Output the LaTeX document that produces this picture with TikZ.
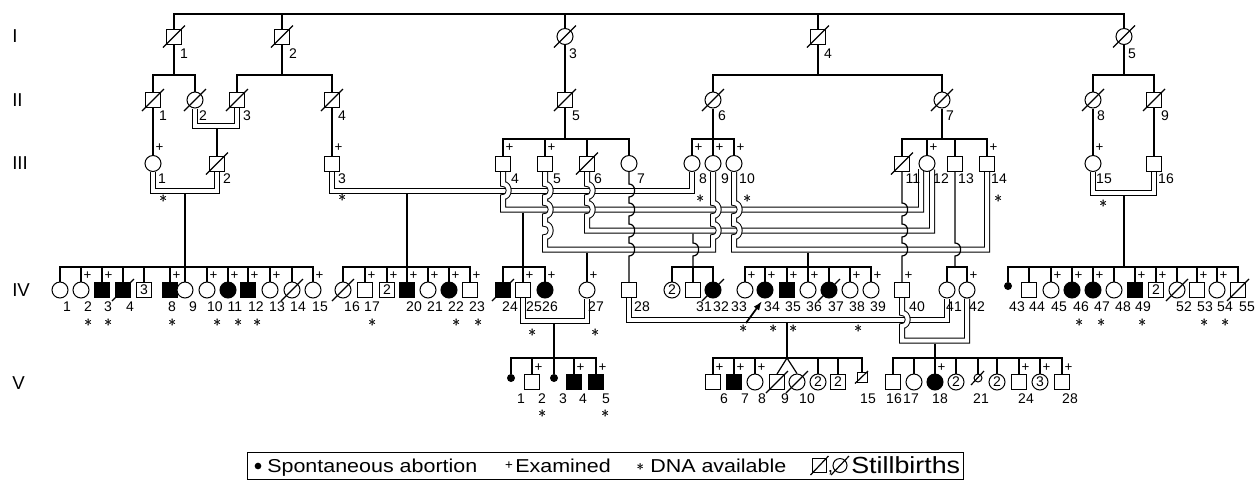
\documentclass[tikz,border=0pt]{standalone}
\usepackage{fontspec}
\setmainfont{Liberation Sans}
\usetikzlibrary{arrows.meta,backgrounds}
\newcommand\labf{\fontsize{10.5}{12}\selectfont}
\newcommand\dnamark{\makebox[0pt]{$\ast$}\makebox[0pt]{\kern0.7pt$\ast$}}
\begin{document}
\begin{tikzpicture}[x=0.75pt,y=-0.75pt,
 every node/.style={inner sep=0pt, font=\labf},
 sq/.style={draw, fill=white, rectangle, minimum size=11.25pt, line width=0.75pt},
 ci/.style={draw, fill=white, circle, minimum size=12pt, line width=0.75pt},
 aff/.style={fill=black},
 sab/.style={fill=black, circle, minimum size=6pt},
 pl/.style={font=\fontsize{10}{12}\selectfont},
 ast/.style={font=\fontsize{13}{13}\selectfont},
 gen/.style={font=\fontsize{14}{16}\selectfont, anchor=west},
 ln/.style={line width=0.9pt},
 dbl/.style={double, double distance=3pt, line width=0.75pt},
 sl/.style={line width=0.9pt},
 hd/.style 2 args={insert path={-- (#1,#2-6.5) .. controls (#1+7.5,#2-6.5) and (#1+7.5,#2+6.5) .. (#1,#2+6.5)}},
 hu/.style 2 args={insert path={-- (#1,#2+6.5) .. controls (#1+7.5,#2+6.5) and (#1+7.5,#2-6.5) .. (#1,#2-6.5)}},
 legt/.style={font=\fontsize{14}{16}\selectfont, anchor=base west},
]
\useasboundingbox (0,0) rectangle (1258,480);
\coordinate (sI) at (0,14);
\coordinate (sII) at (0,75);
\coordinate (sIII) at (0,139);
\coordinate (sIV) at (0,267);
\coordinate (sV) at (0,358);

% generation labels
\node[gen] (gI) at (12,36) {I};
\node[gen] (gII) at (12,100) {II};
\node[gen] (gIII) at (12,163) {III};
\node[gen] (gIV) at (12,290) {IV};
\node[gen] (gV) at (12,383) {V};

% ---------- Generation I
\node[sq] (I1) at (174,36.5) {};
\node[sq] (I2) at (282,36.5) {};
\node[ci] (I3) at (565,36.5) {};
\node[sq] (I4) at (818,36.5) {};
\node[ci] (I5) at (1124,36.5) {};
\foreach \x/\t in {184/1,293/2,573/3,828/4,1132/5} \node (lI\t) at (\x,54) {\t};

% ---------- Generation II
\node[sq] (II1) at (153,100) {};
\node[ci] (II2) at (195,100) {};
\node[sq] (II3) at (237,100) {};
\node[sq] (II4) at (332,100) {};
\node[sq] (II5) at (565,100) {};
\node[ci] (II6) at (713,100) {};
\node[ci] (II7) at (942,100) {};
\node[ci] (II8) at (1093,100) {};
\node[sq] (II9) at (1154,100) {};
\foreach \x/\t in {163/1,203/2,247/3,342/4,576/5,722/6,950/7,1101/8,1165/9} \node (lII\t) at (\x,116) {\t};

% ---------- Generation III
\node[ci] (III1) at (153,163.5) {};
\node[sq] (III2) at (217,163.5) {};
\node[sq] (III3) at (332,163.5) {};
\node[sq] (III4) at (503,163.5) {};
\node[sq] (III5) at (545,163.5) {};
\node[sq] (III6) at (587,163.5) {};
\node[ci] (III7) at (629,163.5) {};
\node[ci] (III8) at (692,163.5) {};
\node[ci] (III9) at (713,163.5) {};
\node[ci] (III10) at (734,163.5) {};
\node[sq] (III11) at (902,163.5) {};
\node[ci] (III12) at (927,163.5) {};
\node[sq] (III13) at (955,163.5) {};
\node[sq] (III14) at (987,163.5) {};
\node[ci] (III15) at (1093,163.5) {};
\node[sq] (III16) at (1154,163.5) {};
\foreach \x/\t in {162/1,227/2,342/3,515/4,557/5,598/6,641/7,703/8,725/9,747/10,913/11,941/12,966/13,999/14,1104/15,1166/16} \node (lIII\t) at (\x,179) {\t};

% ---------- Generation IV
\node[ci] (IV1) at (60,290) {};
\node[ci] (IV2) at (81,290) {};
\node[sq,aff] (IV3) at (102,290) {};
\node[sq,aff] (IV4) at (123,290) {};
\node[sq] (IVnA) at (144,290) {3};
\node[sq,aff] (IV8) at (170,290) {};
\node[ci] (IV9) at (185,290) {};
\node[ci] (IV10) at (207,290) {};
\node[ci,aff] (IV11) at (228,290) {};
\node[sq,aff] (IV12) at (248,290) {};
\node[ci] (IV13) at (270,290) {};
\node[ci] (IV14) at (292,290) {};
\node[ci] (IV15) at (313,290) {};
\node[ci] (IV16) at (343,290) {};
\node[sq] (IV17) at (365,290) {};
\node[sq] (IVnB) at (387,290) {2};
\node[sq,aff] (IV20) at (407,290) {};
\node[ci] (IV21) at (428,290) {};
\node[ci,aff] (IV22) at (449,290) {};
\node[sq] (IV23) at (470,290) {};
\node[sq,aff] (IV24) at (503,290) {};
\node[sq] (IV25) at (523,290) {};
\node[ci,aff] (IV26) at (545,290) {};
\node[ci] (IV27) at (587,290) {};
\node[sq] (IV28) at (629,290) {};
\node[ci] (IVnC) at (672,290) {2};
\node[sq] (IV31) at (693,290) {};
\node[ci,aff] (IV32) at (713,290) {};
\node[ci] (IV33) at (745,290) {};
\node[ci,aff] (IV34) at (765,290) {};
\node[sq,aff] (IV35) at (787,290) {};
\node[ci] (IV36) at (808,290) {};
\node[ci,aff] (IV37) at (829,290) {};
\node[ci] (IV38) at (850,290) {};
\node[ci] (IV39) at (871,290) {};
\node[sq] (IV40) at (902,290) {};
\node[ci] (IV41) at (947,290) {};
\node[ci] (IV42) at (967,290) {};
\node[sab] (IV43) at (1008,286) {};
\node[sq] (IV44) at (1029,290) {};
\node[ci] (IV45) at (1051,290) {};
\node[ci,aff] (IV46) at (1072,290) {};
\node[ci,aff] (IV47) at (1093,290) {};
\node[ci] (IV48) at (1114,290) {};
\node[sq,aff] (IV49) at (1135,290) {};
\node[sq] (IVnD) at (1156,290) {2};
\node[ci] (IV52) at (1177,290) {};
\node[sq] (IV53) at (1197,290) {};
\node[ci] (IV54) at (1217,290) {};
\node[sq] (IV55) at (1238,290) {};
\foreach \x/\t in {67/1,88/2,108/3,130/4,172/8,193/9,215/10,235/11,256/12,277/13,298/14,320/15,352/16,372/17,414/20,435/21,456/22,477/23,510/24,534/25,550/26,596/27,642/28,704/31,721/32,739/33,772/34,793/35,814/36,836/37,857/38,878/39,917/40,954/41,977/42,1017/43,1037/44,1059/45,1081/46,1102/47,1123/48,1143/49,1184/52,1205/53,1225/54,1247/55} \node (lIV\t) at (\x,307) {\t};

% ---------- Generation V
\node[sab] (V1) at (511,378) {};
\node[sq] (V2) at (532,382) {};
\node[sab] (V3) at (554,378) {};
\node[sq,aff] (V4) at (574,382) {};
\node[sq,aff] (V5) at (596,382) {};
\node[sq] (V6) at (713,382) {};
\node[sq,aff] (V7) at (734,382) {};
\node[ci] (V8) at (755,382) {};
\node[sq] (V9) at (777,382) {};
\node[ci] (V10) at (797,382) {};
\node[ci] (VnA) at (818,382) {2};
\node[sq] (VnB) at (838,382) {2};
\node[sq, minimum size=7.5pt] (V15) at (862,377) {};
\node[sq] (V16) at (893,382) {};
\node[ci] (V17) at (914,382) {};
\node[ci,aff] (V18) at (935,382) {};
\node[ci] (VnC) at (956,382) {2};
\node[ci, minimum size=6pt] (V21) at (978,378) {};
\node[ci] (VnD) at (997,382) {2};
\node[sq] (V24) at (1019,382) {};
\node[ci] (VnE) at (1040,382) {3};
\node[sq] (V28) at (1062,382) {};
\foreach \x/\t in {521/1,542/2,563/3,583/4,606/5,724/6,745/7,762/8,785/9,807/10,868/15,894/16,911/17,940/18,981/21,1026/24,1070/28} \node (lV\t) at (\x,399) {\t};

% ---------- examined marks
\foreach \n in {III1,III3,III4,III5,III8,III9,III10,III12,III14,III15}
  \node[pl] (p\n) at ([shift={(6.5,-15.5)}]\n.center) {+};
\foreach \n in {IV2,IV3,IV8,IV10,IV11,IV12,IV13,IV15,IV17,IVnB,IV20,IV21,IV22,IV23,IV25,IV26,IV27,IV33,IV34,IV35,IV36,IV38,IV39,IV40,IV42,IV45,IV46,IV47,IV49,IVnD,IV53,IV54,V2,V4,V5,V6,V7,V8,V18,V24,VnE,V28}
  \node[pl] (p\n) at ([shift={(6.5,-14)}]\n.center) {+};

% ---------- DNA available
\foreach \x/\y [count=\i] in {163/199,342/198,700/199,747/199,998/199,1103/204,88/323,108/323,172/323,217/323,238/323,257/323,372/323,456/323,478/323,1079/323,1101/323,1142/323,1204/323,1225/323,532/333,595/333,743/329,773/329,793/329,858/329,542/414,605/414}
  \node[ast] (dna\i) at (\x,\y) {\dnamark};

% ---------- deceased / stillbirth slashes
\foreach \n in {I1,I2,I3,I4,I5,II1,II2,II3,II4,II5,II6,II7,II8,II9,III2,III6,III11,IV4,IV14,IV16,IV24,IV32,IV37,IV52,IV55,V9,V10}
  \draw[sl] ([shift={(-11,11)}]\n.center) -- ([shift={(11,-11)}]\n.center);
\draw[sl] ([shift={(-7,6.5)}]V15.center) -- ([shift={(6,-6)}]V15.center);
\draw[sl] ([shift={(-7,7)}]V21.center) -- ([shift={(6,-7)}]V21.center);

% ---------- proband arrow
\coordinate (arS) at (746,323);
\coordinate (arT) at (762,301);
\draw[-{Latex[length=7pt,width=5pt]}, line width=1.3pt] (arS) -- (arT);

% ---------- connectors
\begin{scope}[on background layer]
% I
\draw[ln] (I1.north) -- (I1.north |- sI) -- (I5.north |- sI) -- (I5.north);
\foreach \n in {I2,I3,I4} \draw[ln] (\n.north) -- (\n.north |- sI);
% I -> II
\draw[ln] (I1.south) -- (I1.south |- sII);
\draw[ln] (II1.north) -- (II1.north |- sII) -- (II2.north |- sII) -- (II2.north);
\draw[ln] (I2.south) -- (I2.south |- sII);
\draw[ln] (II3.north) -- (II3.north |- sII) -- (II4.north |- sII) -- (II4.north);
\draw[ln] (I3.south) -- (II5.north);
\draw[ln] (I4.south) -- (I4.south |- sII);
\draw[ln] (II6.north) -- (II6.north |- sII) -- (II7.north |- sII) -- (II7.north);
\draw[ln] (I5.south) -- (I5.south |- sII);
\draw[ln] (II8.north) -- (II8.north |- sII) -- (II9.north |- sII) -- (II9.north);
% II -> III
\draw[dbl] (II2.south) -- (195,125.5) -- (237,125.5) -- (II3.south);
\draw[ln] (217,128.5) -- (III2.north);
\draw[ln] (II1.south) -- (III1.north);
\draw[ln] (II4.south) -- (III3.north);
\draw[ln] (II5.south) -- (II5.south |- sIII);
\draw[ln] (III4.north) -- (III4.north |- sIII) -- (III7.north |- sIII) -- (III7.north);
\foreach \n in {III5,III6} \draw[ln] (\n.north) -- (\n.north |- sIII);
\draw[ln] (II6.south) -- (II6.south |- sIII);
\draw[ln] (III8.north) -- (III8.north |- sIII) -- (III10.north |- sIII) -- (III10.north);
\draw[ln] (III9.north) -- (III9.north |- sIII);
\draw[ln] (II7.south) -- (II7.south |- sIII);
\draw[ln] (III11.north) -- (III11.north |- sIII) -- (III14.north |- sIII) -- (III14.north);
\foreach \n in {III12,III13} \draw[ln] (\n.north) -- (\n.north |- sIII);
\draw[ln] (II8.south) -- (III15.north);
\draw[ln] (II9.south) -- (III16.north);
% III marriages
\draw[dbl] (III1.south) -- (153,190.5) -- (217,190.5) -- (III2.south);
\draw[ln] (185,193.5) -- (185,267);
\draw[dbl] (III15.south) -- (1093,193) -- (1154,193) -- (III16.south);
\draw[ln] (1124,196) -- (1124,267);
% A: III3 x III8
\draw[dbl] (III3.south) -- (332,190.5) -- (692,190.5) -- (III8.south);
\draw[ln] (407,193.5) -- (407,267);
% B: III4 x III12
\draw[dbl] (III4.south) [hd={503}{190.5}] -- (503,209.5) -- (921,209.5) -- (921,169);
\draw[ln] (523,212.5) -- (523,267);
% C: III6 x III12
\draw[dbl] (III6.south) [hd={587}{190.5}] [hd={587}{209.5}] -- (587,230.5) -- (932,230.5) -- (932,169.5);
% D: III5 x III9
\draw[dbl] (III5.south) [hd={545}{190.5}] [hd={545}{209.5}] [hd={545}{230.5}] -- (545,249.5) -- (713,249.5) [hu={713}{230.5}] [hu={713}{209.5}] -- (III9.south);
% E: III10 x III14
\draw[dbl] (III10.south) [hd={734}{209.5}] [hd={734}{230.5}] -- (734,249.5) -- (987,249.5) -- (III14.south);
% single descent lines with hops
\draw[ln] (693,233.5) [hd={693}{249.5}] -- (693,267);
\draw[ln] (587,252.5) -- (IV27.north);
\draw[ln] (808,252.5) -- (808,267);
\draw[ln] (III7.south) [hd={629}{190.5}] [hd={629}{209.5}] [hd={629}{230.5}] [hd={629}{249.5}] -- (IV28.north);
\draw[ln] (III11.south) [hd={902}{209.5}] [hd={902}{230.5}] [hd={902}{249.5}] -- (IV40.north);
\draw[ln] (III13.south) [hd={955}{249.5}] -- (955,267);
% IV sibships
\draw[ln] (IV1.north) -- (IV1.north |- sIV) -- (IV15.north |- sIV) -- (IV15.north);
\foreach \n in {IV2,IV3,IV4,IVnA,IV8,IV9,IV10,IV11,IV12,IV13,IV14} \draw[ln] (\n.north) -- (\n.north |- sIV);
\draw[ln] (IV16.north) -- (IV16.north |- sIV) -- (IV23.north |- sIV) -- (IV23.north);
\foreach \n in {IV17,IVnB,IV20,IV21,IV22} \draw[ln] (\n.north) -- (\n.north |- sIV);
\draw[ln] (IV24.north) -- (IV24.north |- sIV) -- (IV26.north |- sIV) -- (IV26.north);
\draw[ln] (IV25.north) -- (IV25.north |- sIV);
\draw[ln] (IVnC.north) -- (IVnC.north |- sIV) -- (IV32.north |- sIV) -- (IV32.north);
\draw[ln] (IV31.north) -- (IV31.north |- sIV);
\draw[ln] (IV33.north) -- (IV33.north |- sIV) -- (IV39.north |- sIV) -- (IV39.north);
\foreach \n in {IV34,IV35,IV36,IV37,IV38} \draw[ln] (\n.north) -- (\n.north |- sIV);
\draw[ln] (IV41.north) -- (IV41.north |- sIV) -- (IV42.north |- sIV) -- (IV42.north);
\draw[ln] (IV43.north) -- (IV43.north |- sIV) -- (IV55.north |- sIV) -- (IV55.north);
\foreach \n in {IV44,IV45,IV46,IV47,IV48,IV49,IVnD,IV52,IV53,IV54} \draw[ln] (\n.north) -- (\n.north |- sIV);
% IV marriages
\draw[dbl] (IV25.south) -- (523,321) -- (587,321) -- (IV27.south);
\draw[ln] (554,324) -- (V3.north);
\draw[dbl] (IV28.south) -- (629,319.5) -- (947,319.5) -- (IV41.south);
\draw[ln] (787,322.5) -- (787,358);
\draw[dbl] (IV40.south) [hd={902}{319.5}] -- (902,340.5) -- (967,340.5) -- (IV42.south);
\draw[ln] (935,343.5) -- (935,358);
% V sibships
\draw[ln] (V1.north) -- (V1.north |- sV) -- (V5.north |- sV) -- (V5.north);
\foreach \n in {V2,V4} \draw[ln] (\n.north) -- (\n.north |- sV);
\draw[ln] (V6.north) -- (V6.north |- sV) -- (V15.north |- sV) -- (V15.north);
\foreach \n in {V7,V8,VnA,VnB} \draw[ln] (\n.north) -- (\n.north |- sV);
\draw[ln] (787,358) -- (V9.north);
\draw[ln] (787,358) -- (V10.north);
\draw[ln] (V16.north) -- (V16.north |- sV) -- (V28.north |- sV) -- (V28.north);
\foreach \n in {V17,V18,VnC,V21,VnD,V24,VnE} \draw[ln] (\n.north) -- (\n.north |- sV);
\end{scope}

% ---------- legend
\draw[line width=0.75pt] (247,452) rectangle (963,479);
\node[sab, minimum size=5pt] (lgd) at (258,466) {};
\node[legt] (lg1) at (267,472.7) {\scalebox{1.15}[1]{Spontaneous abortion}};
\node[pl] (lgp) at (509,466) {+};
\node[legt] (lg2) at (515,472.7) {\scalebox{1.15}[1]{Examined}};
\node[ast, font=\fontsize{11}{11}\selectfont] (lga) at (640,467) {\dnamark};
\node[legt] (lg3) at (650,472.7) {\scalebox{1.15}[1]{DNA available}};
\node[sq, minimum size=10.5pt] (lgs) at (819.5,465.5) {};
\draw[sl] ([shift={(-9,9.5)}]lgs.center) -- ([shift={(9,-9.5)}]lgs.center);
\node[legt] (lgc) at (827.5,472.7) {,};
\node[ci, minimum size=10.5pt] (lgo) at (840,465.5) {};
\draw[sl] ([shift={(-9,9.5)}]lgo.center) -- ([shift={(9,-9.5)}]lgo.center);
\node[legt, font=\fontsize{17.5}{19}\selectfont] (lg4) at (851,473.3) {\scalebox{1.15}[1]{Stillbirths}};
\end{tikzpicture}
\end{document}
